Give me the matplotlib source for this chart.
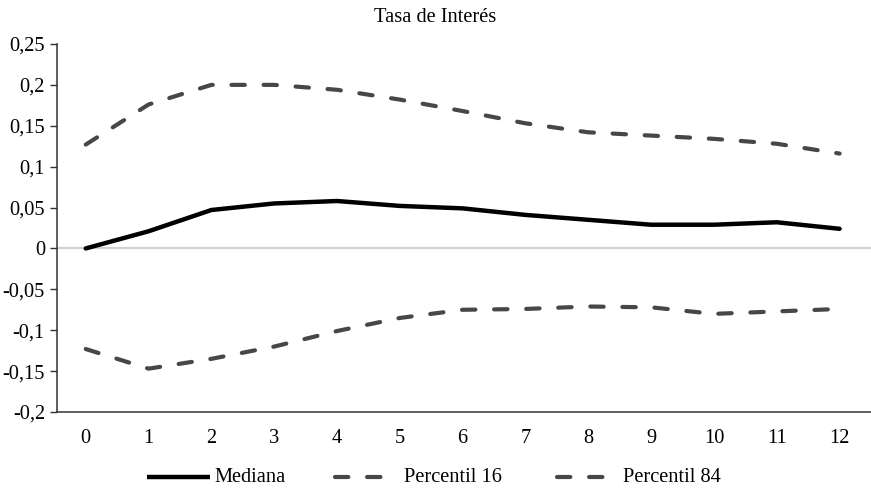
import numpy as np
import matplotlib
matplotlib.use("Agg")
import matplotlib.pyplot as plt
import matplotlib.ticker as mticker
from matplotlib.lines import Line2D

plt.rcParams["font.family"] = ["Liberation Serif", "DejaVu Serif"]
plt.rcParams["font.size"] = 14.7

# ─── DATA ──────────────────────────────────────────────────────────────────────
periodos = list(range(13))
mediana = [0.000, 0.021, 0.047, 0.055, 0.058, 0.052, 0.049, 0.041, 0.035, 0.029, 0.029, 0.032, 0.024]
percentil_16 = [-0.123, -0.147, -0.135, -0.120, -0.101, -0.085, -0.075, -0.074, -0.071, -0.072, -0.080, -0.077, -0.074]
percentil_84 = [0.127, 0.176, 0.200, 0.200, 0.194, 0.182, 0.168, 0.153, 0.142, 0.138, 0.134, 0.128, 0.116]
y_ticks = [-0.2, -0.15, -0.1, -0.05, 0, 0.05, 0.1, 0.15, 0.2, 0.25]

# ─── STYLE ─────────────────────────────────────────────────────────────────────
NEGRO = "#000000"
GRIS = "#474747"
CERO = "#d0d0d0"
DASH = (0, (3.2, 4.5))

fig = plt.figure(figsize=(8.71, 4.92), dpi=100, facecolor="white")
ax = fig.add_axes([0.066, 0.1626, 0.934, 0.748])

ax.axhline(0, color=CERO, linewidth=1.6, zorder=1)
ax.plot(periodos, percentil_84, color=GRIS, linewidth=3, linestyle=DASH,
        dash_capstyle="round", zorder=2)
ax.plot(periodos, percentil_16, color=GRIS, linewidth=3, linestyle=DASH,
        dash_capstyle="round", zorder=2)
ax.plot(periodos, mediana, color=NEGRO, linewidth=3.2,
        solid_capstyle="round", zorder=3)

ax.set_xlim(-0.45, 12.5)
ax.set_ylim(-0.2, 0.25)
ax.set_xticks(periodos)
ax.set_yticks(y_ticks)
ax.yaxis.set_major_formatter(
    mticker.FuncFormatter(lambda v, p: f"{round(v, 2):g}".replace(".", ",")))

for side in ["top", "right"]:
    ax.spines[side].set_visible(False)
for side in ["left", "bottom"]:
    ax.spines[side].set_color("#333333")
    ax.spines[side].set_linewidth(1.1)
ax.tick_params(axis="y", length=5, width=1, color="#333333", pad=4)
ax.tick_params(axis="x", length=0, pad=12)

fig.text(0.5, 0.965, "Tasa de Interés", ha="center", va="center")

# ─── LEGEND ────────────────────────────────────────────────────────────────────
ly = 1 - 477 / 492
W = 871
entradas = [
    (147, 210, 214, "Mediana", NEGRO, "-", 3.2),
    (335, 387, 404, "Percentil 16", GRIS, DASH, 3),
    (557, 608, 623, "Percentil 84", GRIS, DASH, 3),
]
for x0, x1, xt, etiqueta, color, ls, lw in entradas:
    fig.add_artist(Line2D([x0 / W, x1 / W], [ly, ly], color=color, linestyle=ls,
                          linewidth=lw, dash_capstyle="round",
                          solid_capstyle="butt", transform=fig.transFigure))
    fig.text(xt / W, ly, etiqueta, ha="left", va="center")

plt.savefig("out.png", dpi=100, facecolor="white")
plt.close()
